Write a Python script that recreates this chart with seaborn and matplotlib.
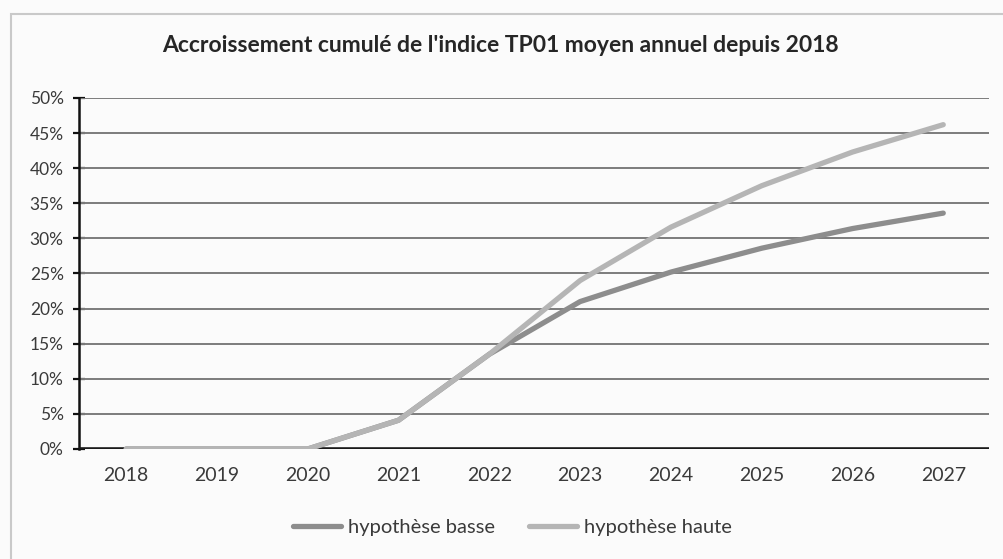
import matplotlib
matplotlib.use("Agg")
import matplotlib.pyplot as plt
import seaborn as sns
import pandas as pd
from matplotlib.patches import Rectangle
from matplotlib.ticker import FuncFormatter

# Cumulative growth of the yearly average TP01 index since 2018 (%)
years = ["2018", "2019", "2020", "2021", "2022", "2023", "2024", "2025", "2026", "2027"]
basse = [0, 0, 0, 4.1, 13.5, 21.0, 25.2, 28.6, 31.4, 33.6]
haute = [0, 0, 0, 4.1, 13.5, 24.0, 31.6, 37.5, 42.3, 46.2]
series_names = ["hypothèse basse", "hypothèse haute"]
title = "Accroissement cumulé de l'indice TP01 moyen annuel depuis 2018"

df = pd.DataFrame({
    "annee": years * 2,
    "x": list(range(len(years))) * 2,
    "valeur": basse + haute,
    "serie": [series_names[0]] * len(years) + [series_names[1]] * len(years),
})

sns.set_theme(style="white")
plt.rcParams["font.family"] = ["Lato", "DejaVu Sans"]

fig = plt.figure(figsize=(10.04, 5.59), dpi=100, facecolor="#fbfbfb")
ax = fig.add_axes([0.0787, 0.1968, 0.906, 0.6279])
ax.set_facecolor("#fbfbfb")

# light frame around the chart area
fig.add_artist(Rectangle((11 / 1004, -0.05), 1.2, 1 - 14 / 559 + 0.05,
                         transform=fig.transFigure, fill=False,
                         edgecolor="#c9c9c9", linewidth=1.5))

palette = {series_names[0]: "#8d8d8d", series_names[1]: "#b5b5b5"}
sns.lineplot(data=df, x="x", y="valeur", hue="serie", palette=palette,
             linewidth=3.8, ax=ax, legend=False, zorder=4)
# draw the upper scenario on top
ax.lines[1].set_zorder(5)

ax.set_xlim(-0.52, 9.5)
ax.set_ylim(0, 50)
ax.set_yticks(range(0, 51, 5))
ax.yaxis.set_major_formatter(FuncFormatter(lambda v, p: f"{int(v)}%"))
ax.set_xticks(range(len(years)))
ax.set_xticklabels(years)
ax.set_xlabel("")
ax.set_ylabel("")

for v in range(5, 51, 5):
    ax.axhline(v, color="#7c7c7c", linewidth=1.4, zorder=1)
ax.axhline(0, color="#1a1a1a", linewidth=2.6, zorder=3)

for s in ["top", "right", "bottom"]:
    ax.spines[s].set_visible(False)
ax.spines["left"].set_color("#111111")
ax.spines["left"].set_linewidth(1.8)

ax.tick_params(axis="y", direction="inout", length=8, width=1.6, color="#111111",
               labelsize=12.5, labelcolor="#3a3a3a", pad=7, left=True)
ax.tick_params(axis="x", length=0, labelsize=14, labelcolor="#3a3a3a", pad=13)

fig.text(0.498, 1 - 46 / 559, title, ha="center", va="center",
         fontsize=16.5, fontweight="bold", color="#262626")

handles = [plt.Line2D([], [], color=palette[n], linewidth=3.8) for n in series_names]
fig.legend(handles, series_names, loc="center", bbox_to_anchor=(0.5105, 1 - 527 / 559),
           ncol=2, frameon=False, fontsize=14.5, handlelength=2.4, handletextpad=0.35,
           columnspacing=1.65, labelcolor="#3a3a3a")

fig.savefig("out.png", dpi=100, facecolor=fig.get_facecolor())
